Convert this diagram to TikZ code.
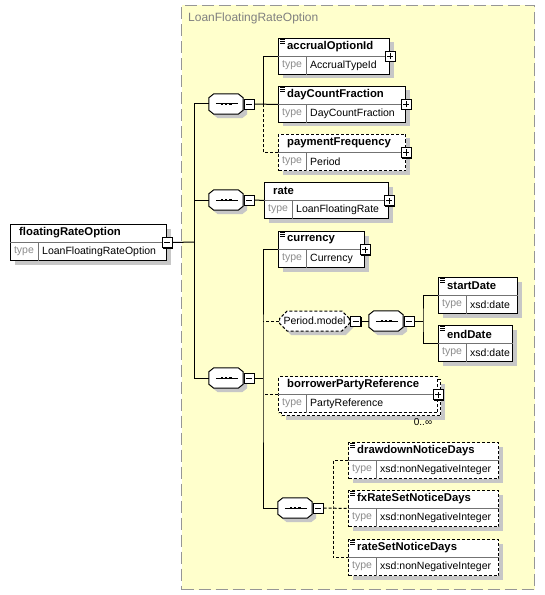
\documentclass[tikz,border=0pt]{standalone}
\usepackage{fontspec}
\setmainfont{Liberation Sans}
\usetikzlibrary{shapes.misc,shadows}

\definecolor{grpfill}{RGB}{255,255,204}
\definecolor{grpline}{RGB}{150,150,150}
\definecolor{typetext}{RGB}{140,140,140}

% element box: [style] name, x, y, width, title, type
\newcommand\xelem[7][elem]{%
  \node[#1,minimum width=#5bp,anchor=north west] (#2) at (#3,#4) {};
  \draw[divider] (#2.west) -- (#2.east);
  \draw[divider] ([xshift=28bp]#2.west) -- ([xshift=28bp]#2.south west);
  \node[ttl] at ([xshift=9bp,yshift=9.5bp]#2.west) {#6};
  \node[typ] at ([xshift=14bp,yshift=-9bp]#2.west) {type};
  \node[tval] at ([xshift=32bp,yshift=-9bp]#2.west) {#7};
}

\begin{document}
\begin{tikzpicture}[x=1bp,y=-1bp]
  \tikzstyle{every node}+=[inner sep=0pt]
  \tikzstyle{shd}=[drop shadow={shadow xshift=4bp,shadow yshift=-4bp,fill=black!22,opacity=1}]
  \tikzstyle{box}=[rectangle,draw,fill=white,line width=1bp,minimum height=36bp]
  \tikzstyle{elem}=[box,shd]
  \tikzstyle{opt}=[dash pattern=on 3bp off 2bp]
  \tikzstyle{divider}=[line width=.8bp,black!55]
  \tikzstyle{ttl}=[anchor=west,font=\fontsize{11.3bp}{13bp}\selectfont\bfseries]
  \tikzstyle{typ}=[text=typetext,font=\fontsize{10.5bp}{12bp}\selectfont]
  \tikzstyle{tval}=[anchor=west,font=\fontsize{10.5bp}{12bp}\selectfont]
  \tikzstyle{grp}=[chamfered rectangle,chamfered rectangle xsep=5bp,draw,fill=white,line width=1bp,
    minimum height=20bp,font=\fontsize{10.5bp}{12bp}\selectfont,shd]
  \tikzstyle{seq}=[rectangle,minimum width=34bp,minimum height=20bp]
  \tikzstyle{btn}=[rectangle,draw,fill=white,line width=.9bp,minimum size=10bp,
    drop shadow={shadow xshift=1bp,shadow yshift=-1bp,fill=black,opacity=1}]
  \tikzstyle{minus}=[btn,path picture={
    \draw ([xshift=2bp]path picture bounding box.west) -- ([xshift=-2bp]path picture bounding box.east);}]
  \tikzstyle{plus}=[btn,path picture={
    \draw ([xshift=2bp]path picture bounding box.west) -- ([xshift=-2bp]path picture bounding box.east);
    \draw ([yshift=2bp]path picture bounding box.south) -- ([yshift=-2bp]path picture bounding box.north);}]
  \tikzstyle{link}=[line width=1bp]
  \tikzstyle{optlink}=[link,opt]

  \useasboundingbox (0,0) rectangle (545,595);
  \fill[white] (0,0) rectangle (545,595);

  % group of the complex type
  \node[draw=grpline,fill=grpfill,line width=1bp,dash pattern=on 12bp off 5bp,
    minimum width=353bp,minimum height=584bp,anchor=north west] (lfro) at (181,5) {};
  \node[anchor=west,text=black!50,font=\fontsize{12bp}{14bp}\selectfont] (lfrolbl) at (188,18) {LoanFloatingRateOption};

  % elements
  \xelem{fro}{10}{224}{156}{floatingRateOption}{LoanFloatingRateOption}
  \xelem{acc}{278}{38}{111}{accrualOptionId}{AccrualTypeId}
  \xelem{dcf}{278}{86}{127}{dayCountFraction}{DayCountFraction}
  \xelem[elem,opt]{pf}{278}{134}{127}{paymentFrequency}{Period}
  \xelem{rate}{264}{182}{124}{rate}{LoanFloatingRate}
  \xelem{cur}{278}{231}{86}{currency}{Currency}
  \xelem{sd}{438}{277}{79}{startDate}{xsd:date}
  \xelem{ed}{438}{325}{74}{endDate}{xsd:date}
  \node[elem,opt,minimum width=159bp,anchor=north west] (bprbk) at (281,379) {};
  \xelem[box,opt]{bpr}{278}{376}{159}{borrowerPartyReference}{PartyReference}
  \node[font=\fontsize{10bp}{12bp}\selectfont] (bprmul) at (423,422) {0..∞};
  \xelem[elem,opt]{dd}{348}{442}{150}{drawdownNoticeDays}{xsd:nonNegativeInteger}
  \xelem[elem,opt]{fx}{348}{490}{150}{fxRateSetNoticeDays}{xsd:nonNegativeInteger}
  \xelem[elem,opt]{rs}{348}{539}{150}{rateSetNoticeDays}{xsd:nonNegativeInteger}

  % simple type icons
  \foreach \e in {acc,dcf,cur,sd,ed,dd,fx,rs}
    \foreach \k in {1.6,3.3,5}
      \draw[line width=.7bp] ([shift={(2bp,-\k bp)}]\e.north west) -- ++(5bp,0);

  % sequences and the model group
  \node[seq] (s1) at (226,104) {};
  \node[seq] (s2) at (226,200) {};
  \node[seq] (s3) at (226,378) {};
  \node[grp,opt,minimum width=67bp] (pm) at (314.5,321) {Period.model};
  \node[seq] (s4) at (386,321) {};
  \node[seq] (s5) at (295,508) {};
  \foreach \s in {s1,s2,s3,s4,s5} {
    \filldraw[link,fill=white,shd] ([xshift=5bp]\s.north west) -- ([xshift=-5bp]\s.north east)
      -- ([yshift=-4bp]\s.north east) -- ([yshift=4bp]\s.south east) -- ([xshift=-5bp]\s.south east)
      -- ([xshift=5bp]\s.south west) -- ([yshift=4bp]\s.south west) -- ([yshift=-4bp]\s.north west) -- cycle;
    \draw[link] ([xshift=7bp]\s.west) -- ([xshift=-5bp]\s.east);
    \foreach \d in {-4.2,0,4.2}
      \fill ([xshift=\d bp]\s.center) ++(-1.3bp,-1.3bp) rectangle ++(2.6bp,2.6bp);
  }

  % buttons
  \node[minus] (fro-b) at (fro.east) {};
  \foreach \s in {s1,s2,s3,s4,s5,pm}
    \node[minus] (\s-b) at ([xshift=6bp]\s.east) {};
  \foreach \e in {acc,dcf,pf,rate,cur,bpr}
    \node[plus] (\e-b) at (\e.east) {};

  % connectors
  \coordinate (t0) at (194,242);
  \draw[link] (fro-b.east) -- (t0);
  \foreach \s in {s1,s2,s3}
    \draw[link] (\s.west) -| (t0);

  \coordinate (j1) at (263,104);
  \draw[link] (s1-b.east) -- (dcf.west);
  \draw[link] (acc.west) -| (j1);
  \draw[optlink] (pf.west) -| (j1);

  \draw[link] (s2-b.east) -- (rate.west);

  \coordinate (j3) at (263,378);
  \draw[link] (s3-b.east) -- (j3);
  \draw[link] (cur.west) -| (j3) |- (s5.west);
  \draw[optlink] (pm.west) -- (pm.west -| j3);
  \draw[optlink] (bpr.west) -- (bpr.west -| j3);

  \draw[link] (pm-b.east) -- (s4.west);
  \coordinate (j4) at (423,321);
  \draw[link] (s4-b.east) -- (j4);
  \draw[link] (sd.west) -| (j4) |- (ed.west);

  \coordinate (j5) at (333,508);
  \draw[optlink] (s5-b.east) -- (fx.west);
  \draw[optlink] (dd.west) -| (j5) |- (rs.west);
\end{tikzpicture}
\end{document}
